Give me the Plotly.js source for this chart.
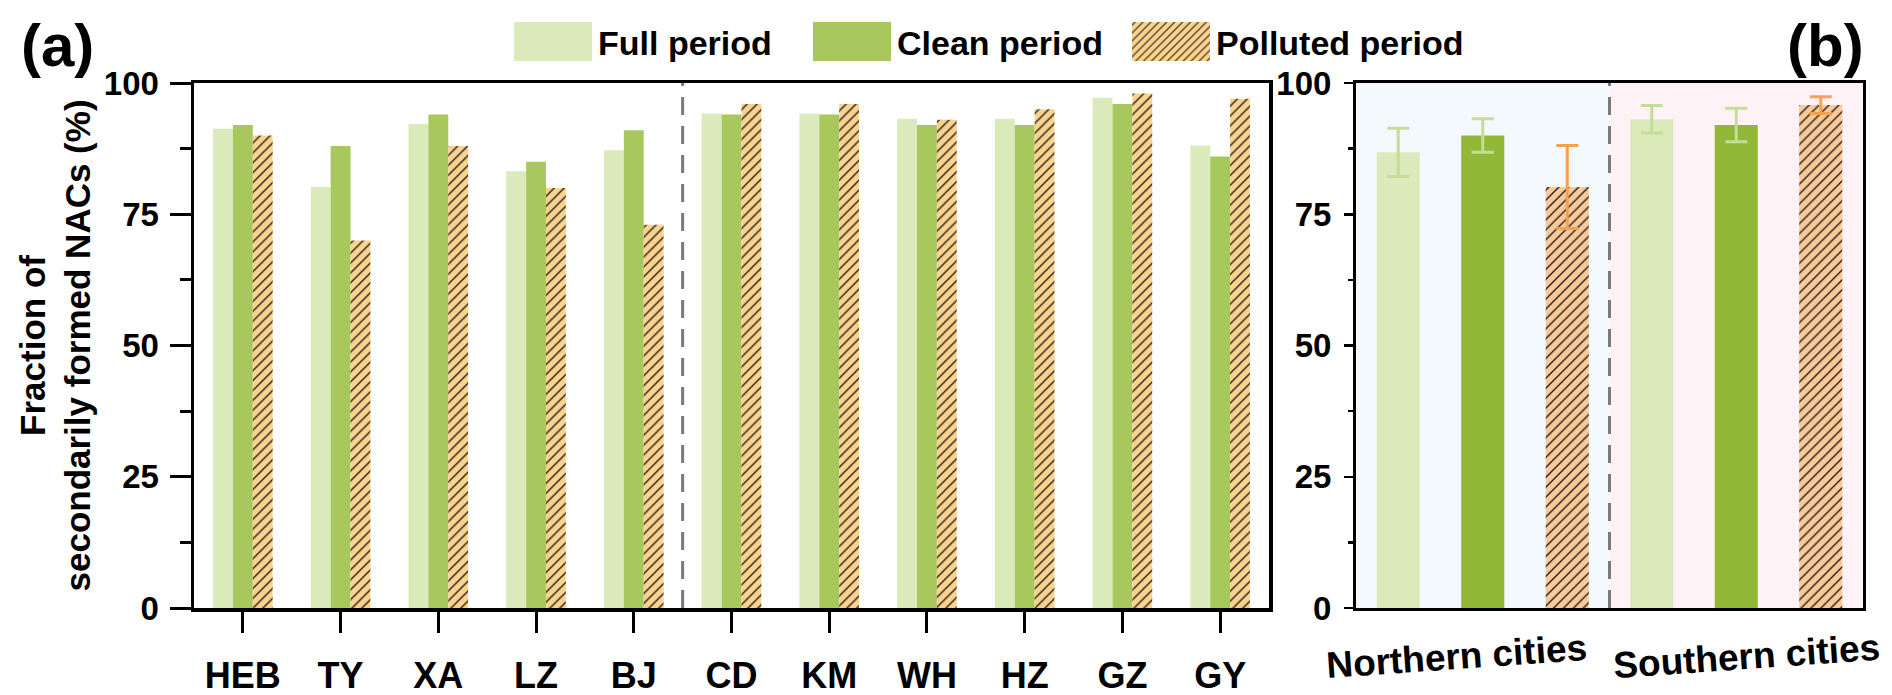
<!DOCTYPE html>
<html>
<head>
<meta charset="utf-8">
<script src="https://cdn.plot.ly/plotly-3.0.1.min.js"></script>
<style>
  body { margin: 0; background: #fff; }
  #plot { width: 1892px; height: 695px; }
</style>
</head>
<body>
<div id="plot"></div>
<script>
// panel (a): single cities
var cities = ['HEB', 'TY', 'XA', 'LZ', 'BJ', 'CD', 'KM', 'WH', 'HZ', 'GZ', 'GY'];
var fullPeriod = [91.3, 80.2, 92.2, 83.2, 87.2, 94.2, 94.2, 93.2, 93.2, 97.2, 88.1];
var cleanPeriod = [92, 88, 94, 85, 91, 94, 94, 92, 92, 96, 86];
var pollutedPeriod = [90, 70, 88, 80, 73, 96, 96, 93, 95, 98, 97];

// panel (b): regional means and their spread
var regions = ['Northern cities', 'Southern cities'];
var regionFull = [86.8, 93.1];
var regionFullErr = [4.6, 2.6];
var regionClean = [90.0, 92.0];
var regionCleanErr = [3.2, 3.2];
var regionPolluted = [80.2, 95.8];
var regionPollutedErr = [7.9, 1.6];

var seriesNames = ['Full period', 'Clean period', 'Polluted period'];

var W = 1892, H = 695;
function px(x) { return x / W; }
function py(y) { return 1 - y / H; }

var boldFont = 'Liberation Sans, Arial, sans-serif';
var hatch = { shape: '/', fgcolor: '#1e1e1e', size: 7, solidity: 0.2 };

var data = [];

// panel (a) bars
var colorsA = ['#dbeabb', '#a8c75d', '#fdd38e'];
var legendWidths = [204, 224, 0];
var valuesA = [fullPeriod, cleanPeriod, pollutedPeriod];
for (var i = 0; i < valuesA.length; i++) {
  var marker = { color: colorsA[i], line: { width: 0 } };
  if (i === 2) {
    marker.pattern = Object.assign({ bgcolor: colorsA[i] }, hatch);
  }
  var trace = {
    type: 'bar',
    name: seriesNames[i],
    x: cities,
    y: valuesA[i],
    xaxis: 'x',
    yaxis: 'y',
    marker: marker,
    showlegend: true
  };
  if (legendWidths[i]) trace.legendwidth = legendWidths[i];
  data.push(trace);
}

// panel (b) bars, each series sits in its own slot inside a region
var colorsB = ['#dbeabb', '#93b838', '#fcca98'];
var errColors = ['#c4de96', '#c4de96', '#f7a04d'];
var valuesB = [regionFull, regionClean, regionPolluted];
var errorsB = [regionFullErr, regionCleanErr, regionPollutedErr];
for (var i = 0; i < valuesB.length; i++) {
  var xs = [];
  for (var r = 0; r < regions.length; r++) {
    xs.push(r * seriesNames.length + i);
  }
  var marker = { color: colorsB[i], line: { width: 0 } };
  if (i === 2) {
    marker.pattern = Object.assign({ bgcolor: colorsB[i] }, hatch);
  }
  data.push({
    type: 'bar',
    name: seriesNames[i],
    x: xs,
    y: valuesB[i],
    xaxis: 'x2',
    yaxis: 'y2',
    width: 0.51,
    offset: -0.255,
    marker: marker,
    error_y: {
      type: 'data',
      array: errorsB[i],
      visible: true,
      color: errColors[i],
      thickness: 3,
      width: 11
    },
    showlegend: false
  });
}

var yDomain = [py(608), py(83)];

var annotations = [
  { xref: 'paper', yref: 'paper', x: px(57), y: py(46), xanchor: 'center', yanchor: 'middle',
    text: '(a)', showarrow: false, font: { family: boldFont, size: 60, weight: 'bold', color: 'black' } },
  { xref: 'paper', yref: 'paper', x: px(1866), y: py(46), xanchor: 'right', yanchor: 'middle',
    text: '(b)', showarrow: false, font: { family: boldFont, size: 60, weight: 'bold', color: 'black' } },
  { xref: 'paper', yref: 'paper', x: px(55), y: (yDomain[0] + yDomain[1]) / 2, xanchor: 'center', yanchor: 'middle',
    textangle: -90, text: 'Fraction of<br>secondarily formed NACs (%)', showarrow: false,
    font: { family: boldFont, size: 35, weight: 'bold', color: 'black' } }
];
var regionLabelShift = [-26, 10];
for (var r = 0; r < regions.length; r++) {
  annotations.push({
    xref: 'x2', yref: 'paper',
    x: r * seriesNames.length + 1, y: py(656),
    xanchor: 'center', yanchor: 'middle',
    xshift: regionLabelShift[r],
    textangle: -4,
    text: regions[r],
    showarrow: false,
    font: { family: boldFont, size: 37, weight: 'bold', color: 'black' }
  });
}

var layout = {
  width: W,
  height: H,
  margin: { l: 0, r: 0, t: 0, b: 0 },
  paper_bgcolor: 'white',
  plot_bgcolor: 'rgba(0,0,0,0)',
  barmode: 'group',
  bargap: 0.39,
  bargroupgap: 0,
  font: { family: boldFont, color: 'black' },
  showlegend: true,
  legend: {
    orientation: 'h',
    x: px(508),
    xanchor: 'left',
    y: py(42),
    yanchor: 'middle',
    itemwidth: 80,
    font: { family: boldFont, size: 34, weight: 'bold', color: 'black' },
    bgcolor: 'rgba(0,0,0,0)',
    traceorder: 'normal'
  },
  xaxis: {
    domain: [px(194), px(1269)],
    anchor: 'y',
    type: 'category',
    range: [-0.5, cities.length - 0.5],
    showline: true,
    linecolor: 'black',
    linewidth: 3.5,
    mirror: true,
    showgrid: false,
    ticks: 'outside',
    ticklen: 21,
    tickwidth: 3,
    tickcolor: 'black',
    ticklabelstandoff: 12,
    tickfont: { family: boldFont, size: 36, weight: 'bold', color: 'black' }
  },
  yaxis: {
    domain: yDomain,
    anchor: 'x',
    range: [0, 100],
    tickvals: [0, 25, 50, 75, 100],
    showline: true,
    linecolor: 'black',
    linewidth: 3.5,
    mirror: true,
    showgrid: false,
    zeroline: false,
    ticks: 'outside',
    ticklen: 21,
    tickwidth: 3,
    tickcolor: 'black',
    minor: { dtick: 12.5, ticks: 'outside', ticklen: 11, tickwidth: 3, tickcolor: 'black', showgrid: false },
    ticklabelstandoff: 4,
    tickfont: { family: boldFont, size: 33, weight: 'bold', color: 'black' }
  },
  xaxis2: {
    domain: [px(1356), px(1863)],
    anchor: 'y2',
    range: [-0.5, regions.length * seriesNames.length - 0.5],
    showline: true,
    linecolor: 'black',
    linewidth: 3,
    mirror: true,
    showgrid: false,
    zeroline: false,
    showticklabels: false,
    ticks: ''
  },
  yaxis2: {
    domain: yDomain,
    anchor: 'x2',
    range: [0, 100],
    tickvals: [0, 25, 50, 75, 100],
    showline: true,
    linecolor: 'black',
    linewidth: 3,
    mirror: true,
    showgrid: false,
    zeroline: false,
    ticks: 'outside',
    ticklen: 9,
    tickwidth: 2.5,
    tickcolor: 'black',
    minor: { dtick: 12.5, ticks: 'outside', ticklen: 5, tickwidth: 2.5, tickcolor: 'black', showgrid: false },
    ticklabelstandoff: 6,
    tickfont: { family: boldFont, size: 33, weight: 'bold', color: 'black' }
  },
  shapes: [
    // north / south backgrounds of panel (b)
    { type: 'rect', xref: 'x2', yref: 'y2', x0: -0.5, x1: 2.5, y0: 0, y1: 100,
      fillcolor: '#f3f9fd', line: { width: 0 }, layer: 'below' },
    { type: 'rect', xref: 'x2', yref: 'y2', x0: 2.5, x1: 5.5, y0: 0, y1: 100,
      fillcolor: '#fef2f6', line: { width: 0 }, layer: 'below' },
    // dashed separators
    { type: 'line', xref: 'x', yref: 'y', x0: 4.5, x1: 4.5, y0: 0, y1: 100,
      line: { color: '#7a7a7a', width: 3, dash: '18px,11px' } },
    { type: 'line', xref: 'x2', yref: 'y2', x0: 2.5, x1: 2.5, y0: 0, y1: 100,
      line: { color: '#7a7a7a', width: 3, dash: '18px,11px' } }
  ],
  annotations: annotations
};

Plotly.newPlot('plot', data, layout, { staticPlot: true }).then(function (gd) {
  // bigger legend patches, like the original figure
  gd.querySelectorAll('.legendpoints path').forEach(function (p) {
    p.setAttribute('d', 'M39,19.5H-39V-19.5H39Z');
  });
});
</script>
</body>
</html>
